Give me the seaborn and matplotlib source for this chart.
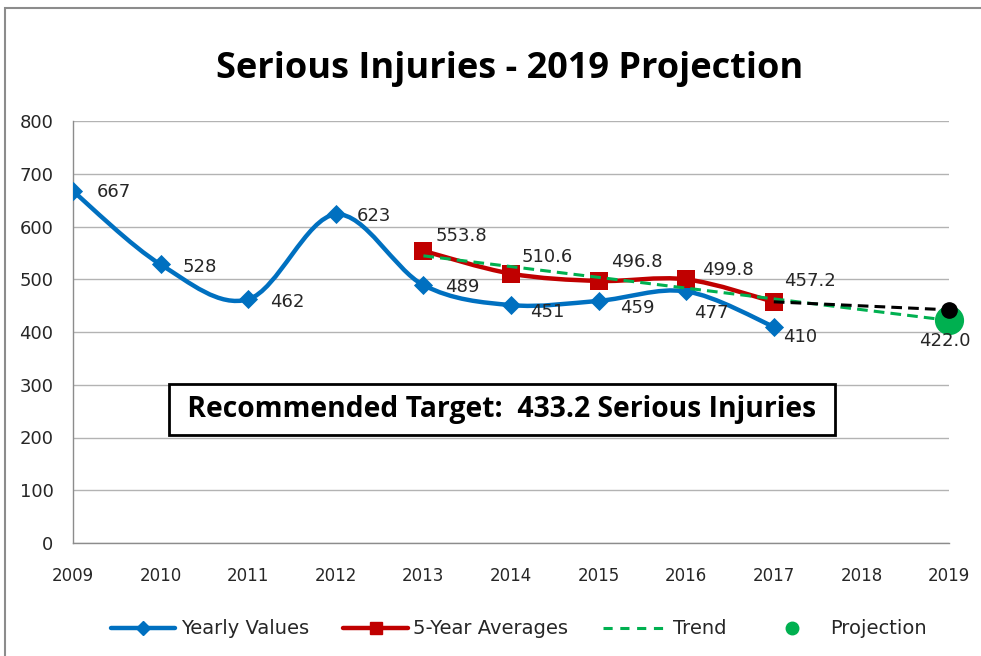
import matplotlib
matplotlib.use('Agg')
import matplotlib.pyplot as plt
from matplotlib.path import Path
from matplotlib.patches import PathPatch, Rectangle
from matplotlib.lines import Line2D
import seaborn as sns
import numpy as np

# data
years = [2009, 2010, 2011, 2012, 2013, 2014, 2015, 2016, 2017]
yearly = [667, 528, 462, 623, 489, 451, 459, 477, 410]
avg_years = [2013, 2014, 2015, 2016, 2017]
averages = [553.8, 510.6, 496.8, 499.8, 457.2]
trend_years = [2013, 2019]
trend_vals = [544.4, 422.0]
target_years = [2017, 2019]
target_vals = [457.2, 442.0]
proj_year = [2019]
proj_val = [422.0]
x_ticks = list(range(2009, 2020))
y_ticks = list(range(0, 900, 100))

# label offsets in pixels (right, down) -- hand placed like the original
yearly_off = [(24, 1), (22, 3), (22, 3), (21, 2), (22, 2), (19, 7), (21, 7), (8, 22), (9, 10)]
avg_off = [(12, -15), (11, -17), (12, -19), (16, -9), (10, -21)]

BLUE = '#0070C0'
RED = '#C00000'
GREEN = '#00B050'
GRID = '#B3B3B3'
AXIS = '#8C8C8C'

sns.set_style("white")
plt.rcParams['font.family'] = ['DejaVu Sans']
plt.rcParams['text.color'] = 'black'
NARROW = ['Open Sans', 'DejaVu Sans']


def smooth_path(xs, ys):
    # excel style smoothed line: catmull-rom drawn as cubic beziers
    pts = list(zip(xs, ys))
    verts = [pts[0]]
    codes = [Path.MOVETO]
    n = len(pts)
    for i in range(n - 1):
        p0 = np.array(pts[i - 1] if i > 0 else pts[i])
        p1 = np.array(pts[i])
        p2 = np.array(pts[i + 1])
        p3 = np.array(pts[i + 2] if i + 2 < n else pts[i + 1])
        c1 = p1 + (p2 - p0) / 6.0
        c2 = p2 - (p3 - p1) / 6.0
        verts += [tuple(c1), tuple(c2), tuple(p2)]
        codes += [Path.CURVE4] * 3
    return Path(verts, codes)


fig = plt.figure(figsize=(9.81, 6.56), dpi=100)
ax = fig.add_axes([73 / 981, 1 - 543 / 656, (949 - 73) / 981, (543 - 121) / 656])

# smoothed lines
ax.add_patch(PathPatch(smooth_path(years, yearly), fill=False, edgecolor=BLUE, lw=3.2, zorder=3,
                       capstyle='round', joinstyle='round'))
ax.add_patch(PathPatch(smooth_path(avg_years, averages), fill=False, edgecolor=RED, lw=3.2, zorder=4,
                       capstyle='round', joinstyle='round'))

sns.scatterplot(x=years, y=yearly, marker='D', s=95, color=BLUE, edgecolor=BLUE, linewidth=0, zorder=5, ax=ax)
sns.scatterplot(x=avg_years, y=averages, marker='s', s=150, color=RED, edgecolor=RED, linewidth=0, zorder=6, ax=ax)

sns.lineplot(x=trend_years, y=trend_vals, color=GREEN, lw=2.2, zorder=7, ax=ax)
ax.lines[-1].set_dashes((3.5, 2))
sns.lineplot(x=target_years, y=target_vals, color='black', lw=2.2, zorder=8, ax=ax)
ax.lines[-1].set_dashes((3.5, 2))

ax.plot(proj_year, proj_val, 'o', color=GREEN, ms=20, zorder=9, clip_on=False)
ax.plot(target_years[-1:], target_vals[-1:], 'o', color='black', ms=11, zorder=10, clip_on=False)

# data labels
for x, y, (dx, dy) in zip(years, yearly, yearly_off):
    ax.annotate(str(y), (x, y), xytext=(dx * 0.72, -dy * 0.72), textcoords='offset points',
                ha='left', va='center', fontsize=13, color='#262626', zorder=11)
for x, y, (dx, dy) in zip(avg_years, averages, avg_off):
    ax.annotate(f"{y:.1f}", (x, y), xytext=(dx * 0.72, -dy * 0.72), textcoords='offset points',
                ha='left', va='center', fontsize=13, color='#262626', zorder=11)
ax.annotate(f"{proj_val[0]:.1f}", (proj_year[0], proj_val[0]), xytext=(-3, -15), textcoords='offset points',
            ha='center', va='center', fontsize=13, color='#262626', zorder=11, annotation_clip=False)

# axes
ax.set_xlim(2009, 2019)
ax.set_ylim(0, 800)
ax.set_xticks(x_ticks)
ax.set_xticklabels([str(t) for t in x_ticks], fontsize=12)
ax.set_yticks(y_ticks)
ax.set_yticklabels([str(t) for t in y_ticks], fontsize=13)
ax.yaxis.grid(True, color=GRID, lw=1)
ax.xaxis.grid(False)
ax.set_axisbelow(True)
for s in ['top', 'right']:
    ax.spines[s].set_visible(False)
for s in ['left', 'bottom']:
    ax.spines[s].set_color(AXIS)
    ax.spines[s].set_linewidth(1)
ax.tick_params(axis='both', direction='out', length=5, width=1, color=AXIS, labelcolor='#262626')
ax.tick_params(axis='x', pad=12)
ax.tick_params(axis='y', pad=9)
ax.set_xlabel('')
ax.set_ylabel('')

# title and target box
fig.text(510 / 981, 1 - 69 / 656, 'Serious Injuries - 2019 Projection', ha='center', va='center',
         fontsize=26, fontweight='bold', family=NARROW, color='black')
ax.text(2013.9, 254, ' Recommended Target:  433.2 Serious Injuries ', ha='center', va='center',
        fontsize=20.3, fontweight='bold', family=NARROW, zorder=12, color='black',
        bbox=dict(boxstyle='square,pad=0.39', facecolor='white', edgecolor='black', lw=2))

# legend
handles = [
    Line2D([], [], color=BLUE, lw=3.2, marker='D', ms=7),
    Line2D([], [], color=RED, lw=3.2, marker='s', ms=9),
    Line2D([], [], color=GREEN, lw=2.2, dashes=(3, 2.5)),
    Line2D([], [], color=GREEN, lw=0, marker='o', ms=9),
]
fig.legend(handles, ['Yearly Values', '5-Year Averages', 'Trend', 'Projection'], loc='center',
           bbox_to_anchor=(519 / 981, 1 - 629 / 656), ncol=4, frameon=False, fontsize=14,
           handlelength=3.3, handletextpad=0.3, columnspacing=1.75, labelcolor='#262626')

# outer chart border
fig.patches.append(Rectangle((5 / 981, -0.1), 1.2, 1.1 - 8 / 656, transform=fig.transFigure,
                             fill=False, edgecolor='#8C8C8C', lw=1.5, figure=fig))

fig.savefig('out.png', dpi=100)
